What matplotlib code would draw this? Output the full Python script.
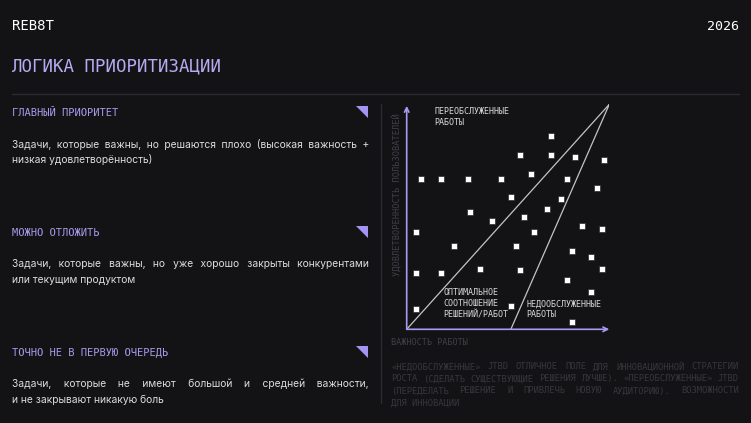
import matplotlib
matplotlib.use('Agg')
import matplotlib.pyplot as plt
from matplotlib.patches import Polygon

# ---------------- data ----------------
importance = [0.71, 1.69, 3.03, 4.64, 3.14, 4.19, 7.12, 5.59, 7.12, 8.31, 9.74, 6.14,
              7.91, 9.39, 5.15, 7.62, 6.92, 5.79, 8.65, 9.64, 0.46, 6.28, 2.35, 5.41,
              8.17, 9.10, 9.62, 0.44, 1.69, 3.64, 5.61, 7.91, 9.10, 5.13, 0.44, 8.17]
satisfaction = [6.68, 6.68, 6.68, 6.68, 5.21, 4.81, 8.59, 7.75, 7.75, 7.66, 7.52, 6.90,
                6.68, 6.28, 5.88, 5.79, 5.35, 4.99, 4.59, 4.46, 4.32, 4.32, 3.72, 3.72,
                3.48, 3.23, 2.69, 2.49, 2.49, 2.70, 2.64, 2.18, 1.66, 1.05, 0.90, 0.31]
line_optimal = ([0, 10], [0, 10])
line_under = ([5.14, 10], [0, 10])

brand = "REB8T"
year = "2026"
title = "ЛОГИКА ПРИОРИТИЗАЦИИ"
section_titles = ["ГЛАВНЫЙ ПРИОРИТЕТ", "МОЖНО ОТЛОЖИТЬ", "ТОЧНО НЕ В ПЕРВУЮ ОЧЕРЕДЬ"]
section_lines = [
    ["Задачи, которые важны, но решаются плохо (высокая важность +",
     "низкая удовлетворённость)"],
    ["Задачи, которые важны, но уже хорошо закрыты конкурентами",
     "или текущим продуктом"],
    ["Задачи, которые не имеют большой и средней важности,",
     "и не закрывают никакую боль"],
]
note_lines = [
    "«НЕДООБСЛУЖЕННЫЕ» JTBD ОТЛИЧНОЕ ПОЛЕ ДЛЯ ИННОВАЦИОННОЙ СТРАТЕГИИ",
    "РОСТА (СДЕЛАТЬ СУЩЕСТВУЮЩИЕ РЕШЕНИЯ ЛУЧШЕ). «ПЕРЕОБСЛУЖЕННЫЕ» JTBD",
    "(ПЕРЕДЕЛАТЬ РЕШЕНИЕ И ПРИВЛЕЧЬ НОВУЮ АУДИТОРИЮ). ВОЗМОЖНОСТИ",
    "ДЛЯ ИННОВАЦИИ",
]
xlabel = "ВАЖНОСТЬ РАБОТЫ"
ylabel = "УДОВЛЕТВОРЕННОСТЬ ПОЛЬЗОВАТЕЛЕЙ"
label_over = ["ПЕРЕОБСЛУЖЕННЫЕ", "РАБОТЫ"]
label_opt = ["ОПТИМАЛЬНОЕ", "СООТНОШЕНИЕ", "РЕШЕНИЙ/РАБОТ"]
label_under = ["НЕДООБСЛУЖЕННЫЕ", "РАБОТЫ"]

# ---------------- style ----------------
BG = "#131215"
LAV_TITLE = "#b6abf2"
LAV_HEAD = "#a89cec"
LAV_TRI = "#a493f0"
LAV_AXIS = "#a99cf0"
BODY = "#dcdcdc"
DIM = "#423f47"
NOTE = "#38373d"
RULE = "#2c2b30"
MONO = ["DejaVu Sans Mono", "DejaVu Sans"]
SANS = ["Inter", "DejaVu Sans"]
VA = 'center_baseline'

W, H = 751, 423
fig = plt.figure(figsize=(W / 100, H / 100), dpi=100, facecolor=BG)
ov = fig.add_axes([0, 0, 1, 1])
ov.set_xlim(0, W)
ov.set_ylim(H, 0)
ov.axis('off')
ov.set_facecolor(BG)
renderer = fig.canvas.get_renderer()


def text_width(s, fontsize, family):
    t = ov.text(0, 0, s, fontsize=fontsize, family=family)
    w = t.get_window_extent(renderer).width
    t.remove()
    return w


def para_line(line, x0, x1, y, fontsize, justify_it, family, **kw):
    """Single text object per line; justification via space + fine spaces."""
    base = y + 0.36 * fontsize * 100 / 72
    if justify_it:
        words = line.split(' ')
        ref = text_width("xx", fontsize, family)
        w_sp = text_width("x x", fontsize, family) - ref
        fine, w_fine = None, None
        for c in ['\u200a', '\u2009', '\u2006', '\u2005']:
            wc = text_width("x" + c + "x", fontsize, family) - ref
            if 0.3 < wc < w_sp * 0.8:
                fine, w_fine = c, wc
                break
        ngaps = len(words) - 1
        natural = text_width(line, fontsize, family)
        extra_total = (x1 - x0) - natural
        if fine is not None and ngaps > 0 and extra_total > 0:
            per = extra_total / ngaps
            out = words[0]
            prev = 0
            for i in range(1, ngaps + 1):
                cum = int(round(i * per / w_fine))
                out += ' ' + fine * (cum - prev) + words[i]
                prev = cum
            line = out
    ov.text(x0, base, line, va='baseline', ha='left', fontsize=fontsize,
            family=family, **kw)


def word_justify(line, x0, x1, y, fontsize, justify_it, family, **kw):
    """One text object per word, spread across x0..x1."""
    base = y + 0.36 * fontsize * 100 / 72
    if not justify_it:
        ov.text(x0, base, line, va='baseline', ha='left', fontsize=fontsize,
                family=family, **kw)
        return
    words = line.split(' ')
    texts = [ov.text(0, base, w, va='baseline', ha='left', fontsize=fontsize,
                     family=family, **kw) for w in words]
    widths = [t.get_window_extent(renderer).width for t in texts]
    gap = (x1 - x0 - sum(widths)) / max(len(words) - 1, 1)
    x = x0
    for t, w in zip(texts, widths):
        t.set_x(x)
        x += w + gap


# header
ov.text(12, 24.5, brand, color="white", fontsize=10, family=MONO, va=VA, ha='left')
ov.text(739, 24.5, year, color="white", fontsize=9.5, family=MONO, va=VA, ha='right')
ov.text(11, 64, title, color=LAV_TITLE, fontsize=12.5, family=MONO, va=VA, ha='left')
ov.plot([12, 739], [94.3, 94.3], color=RULE, lw=1)

# left sections
head_y = [112.5, 232.3, 352.3]
for i, (st, lines) in enumerate(zip(section_titles, section_lines)):
    hy = head_y[i]
    ov.text(12, hy, st, color=LAV_HEAD, fontsize=7.5, family=MONO, va=VA, ha='left')
    ov.add_patch(Polygon([(356, hy - 6.5), (368.3, hy - 6.5), (368.3, hy + 5.8)],
                         closed=True, facecolor=LAV_TRI, edgecolor='none'))
    by = hy + 31.3
    for j, ln in enumerate(lines):
        para_line(ln, 12, 369, by + j * 15.7, 7.4, j < len(lines) - 1,
                  SANS, color=BODY)

# divider
ov.plot([381, 381], [104, 403], color=RULE, lw=1)

# axis labels
ov.text(396.7, 195, ylabel, color=DIM, fontsize=6.2, family=MONO, rotation=90,
        va='center', ha='center')
ov.text(391, 341.7, xlabel, color=DIM, fontsize=6.1, family=MONO, va=VA, ha='left')

# note paragraph
note_y = [366, 378, 390, 402]
for j, ln in enumerate(note_lines):
    word_justify(ln, 391, 739, note_y[j], 6.3, j < len(note_lines) - 1,
                 MONO, color=NOTE)

# in-chart labels
for j, ln in enumerate(label_over):
    ov.text(434.3, 110.7 + j * 11.2, ln, color="#d8d8d8", fontsize=6.0, family=MONO,
            va=VA, ha='left')
for j, ln in enumerate(label_opt):
    ov.text(443, 291.5 + j * 11.2, ln, color="#d8d8d8", fontsize=6.0, family=MONO,
            va=VA, ha='left')
for j, ln in enumerate(label_under):
    ov.text(526.7, 302.7 + j * 11.2, ln, color="#d8d8d8", fontsize=6.0, family=MONO,
            va=VA, ha='left')

# ---------------- scatter chart ----------------
x0p, y0p = 406.7, 329.3
ax = fig.add_axes([x0p / W, (H - y0p) / H, 202.6 / W, 225 / H])
ax.set_xlim(0, 10)
ax.set_ylim(0, 10)
ax.axis('off')
ax.patch.set_alpha(0)

ax.plot(*line_optimal, color="#c4c4c4", lw=0.9, zorder=2)
ax.plot(*line_under, color="#c4c4c4", lw=0.9, zorder=2)

ax.annotate('', xy=(10, 0), xytext=(0, 0),
            arrowprops=dict(arrowstyle='->', color=LAV_AXIS, lw=1.2, shrinkA=0, shrinkB=0,
                            mutation_scale=8), annotation_clip=False)
ax.annotate('', xy=(0, 9.93), xytext=(0, 0),
            arrowprops=dict(arrowstyle='->', color=LAV_AXIS, lw=1.2, shrinkA=0, shrinkB=0,
                            mutation_scale=8), annotation_clip=False)

ax.scatter(importance, satisfaction, marker='s', s=15, c='white', edgecolors='#2a2a2a',
           linewidths=0.5, zorder=5, clip_on=False)

fig.savefig("out.png", dpi=100, facecolor=BG)
